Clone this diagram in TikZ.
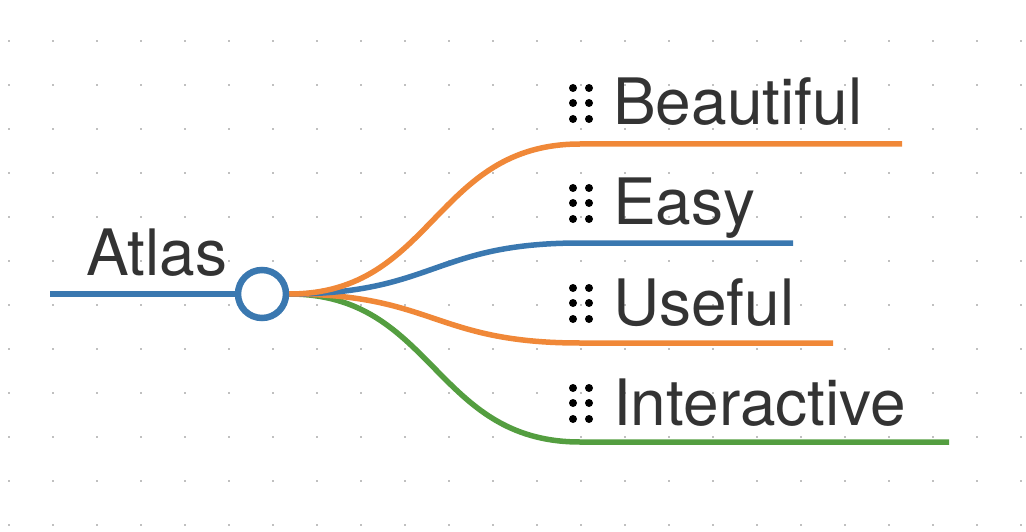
\documentclass[tikz,border=0pt]{standalone}
\usepackage{fontspec}
\setmainfont{TeX Gyre Heros}
\usepackage{xcolor}
\usetikzlibrary{positioning}

\definecolor{mapblue}{RGB}{58,120,176}
\definecolor{maporange}{RGB}{240,136,56}
\definecolor{mapgreen}{RGB}{84,158,64}
\definecolor{maptext}{RGB}{51,51,51}

\begin{document}
\begin{tikzpicture}[
    x=1pt, y=-1pt,
    font=\fontsize{64}{72}\selectfont,
    griddot/.style={fill=black!50},
    root/.style={circle, draw=mapblue, line width=6.5pt, fill=white,
                 minimum size=48pt, inner sep=0pt},
    label/.style={anchor=base west, inner sep=0pt, text=maptext},
    branch/.style={line width=5.5pt, line cap=butt},
    handle/.style={fill=black}]
    \useasboundingbox (0,0) rectangle (1026,532);
    % dotted background
    \foreach \i in {0,...,23}
      \foreach \j in {0,...,11}
        \fill[griddot] (9+44*\i,41+44*\j) circle (0.9);
    % root
    \coordinate (start) at (50,294);
    \node[root] (atlas) at (262,294) {};
    \node[label] (atlastxt) at (86,275) {Atlas};
    \draw[branch, line width=6.5pt, mapblue] (start) -- (atlas.west);
    % children
    \node[label] (beautiful) at (613,125) {Beautiful};
    \node[label] (easy) at (613,225) {Easy};
    \node[label] (useful) at (613,325) {Useful};
    \node[label] (interactive) at (613,425) {Interactive};
    \coordinate (b1) at (580,144); \coordinate (e1) at (902,144);
    \coordinate (b2) at (580,243); \coordinate (e2) at (793,243);
    \coordinate (b3) at (580,343); \coordinate (e3) at (833,343);
    \coordinate (b4) at (580,442); \coordinate (e4) at (949,442);
    \draw[branch, mapgreen] (atlas.east) .. controls (434,294) and (434,442) .. (b4) -- (e4);
    \draw[branch, maporange] (atlas.east) .. controls (434,294) and (434,343) .. (b3) -- (e3);
    \draw[branch, mapblue] (atlas.east) .. controls (434,294) and (434,243) .. (b2) -- (e2);
    \draw[branch, maporange] (atlas.east) .. controls (434,294) and (434,144) .. (b1) -- (e1);
    % drag handles
    \foreach \n in {beautiful,easy,useful,interactive}
      \foreach \dx in {-40,-24}
        \foreach \dy in {-37,-22,-6}
          \fill[handle] ([shift={(\dx,\dy)}]\n.base west) circle (4);
\end{tikzpicture}
\end{document}
